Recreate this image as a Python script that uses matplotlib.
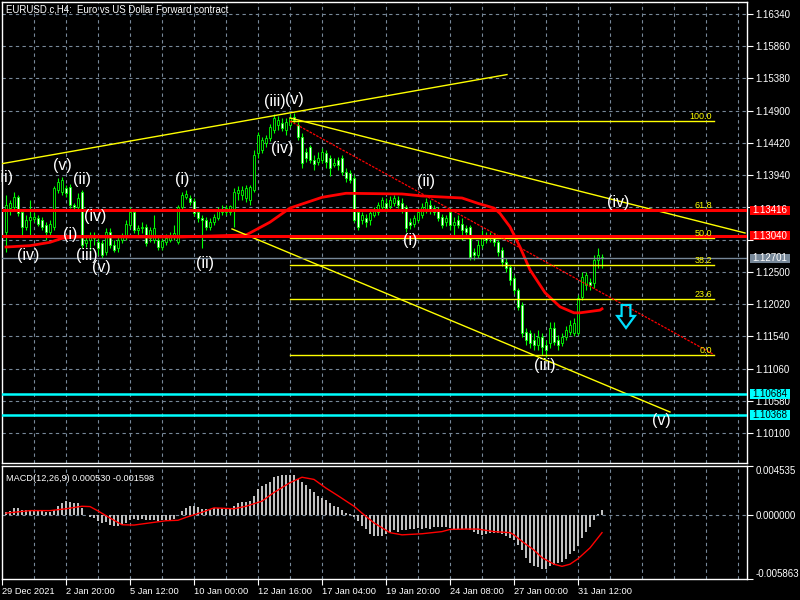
import matplotlib
matplotlib.use('Agg')
import matplotlib.pyplot as plt
import matplotlib.transforms as mtransforms
from matplotlib.patches import Polygon, Rectangle
import numpy as np

# H4 candles, bar 0 = first visible bar
opens = [
    1.1309, 1.1345, 1.1346, 1.1361, 1.1339, 1.1317, 1.1327, 1.1328, 1.1330, 1.1327,
    1.1320, 1.1309, 1.1317, 1.1372, 1.1369, 1.1375, 1.1376, 1.1349, 1.1346, 1.1369,
    1.1293, 1.1297, 1.1300, 1.1294, 1.1293, 1.1279, 1.1309, 1.1290, 1.1285, 1.1297,
    1.1302, 1.1320, 1.1339, 1.1312, 1.1315, 1.1317, 1.1300, 1.1297, 1.1297, 1.1287,
    1.1294, 1.1297, 1.1302, 1.1294, 1.1346, 1.1361, 1.1360, 1.1355, 1.1339, 1.1330,
    1.1327, 1.1317, 1.1324, 1.1330, 1.1339, 1.1339, 1.1339, 1.1342, 1.1367, 1.1364,
    1.1360, 1.1357, 1.1372, 1.1427, 1.1431, 1.1442, 1.1449, 1.1461, 1.1469, 1.1472,
    1.1461, 1.1469, 1.1481, 1.1469, 1.1451, 1.1428, 1.1436, 1.1417, 1.1414, 1.1417,
    1.1427, 1.1420, 1.1409, 1.1417, 1.1420, 1.1399, 1.1397, 1.1390, 1.1339, 1.1327,
    1.1330, 1.1327, 1.1334, 1.1339, 1.1346, 1.1352, 1.1348, 1.1352, 1.1357, 1.1352,
    1.1346, 1.1324, 1.1321, 1.1327, 1.1334, 1.1342, 1.1349, 1.1345, 1.1342, 1.1331,
    1.1324, 1.1339, 1.1320, 1.1327, 1.1322, 1.1315, 1.1317, 1.1279, 1.1275, 1.1290,
    1.1302, 1.1302, 1.1303, 1.1294, 1.1282, 1.1264, 1.1257, 1.1241, 1.1223, 1.1200,
    1.1160, 1.1159, 1.1148, 1.1141, 1.1153, 1.1141, 1.1144, 1.1166, 1.1148, 1.1144,
    1.1153, 1.1160, 1.1159, 1.1159, 1.1212, 1.1230, 1.1235, 1.1233, 1.1267, 1.1272,
]
highs = [
    1.1364, 1.1357, 1.1369, 1.1364, 1.1342, 1.1334, 1.1357, 1.1339, 1.1334, 1.1331,
    1.1324, 1.1327, 1.1378, 1.1390, 1.1391, 1.1379, 1.1381, 1.1352, 1.1367, 1.1372,
    1.1303, 1.1309, 1.1309, 1.1300, 1.1297, 1.1315, 1.1315, 1.1297, 1.1303, 1.1308,
    1.1327, 1.1346, 1.1342, 1.1320, 1.1324, 1.1321, 1.1317, 1.1334, 1.1303, 1.1300,
    1.1306, 1.1309, 1.1320, 1.1349, 1.1369, 1.1372, 1.1364, 1.1360, 1.1342, 1.1334,
    1.1331, 1.1330, 1.1336, 1.1346, 1.1349, 1.1349, 1.1349, 1.1375, 1.1378, 1.1378,
    1.1379, 1.1379, 1.1431, 1.1458, 1.1451, 1.1454, 1.1470, 1.1485, 1.1482, 1.1479,
    1.1479, 1.1485, 1.1487, 1.1473, 1.1457, 1.1434, 1.1439, 1.1424, 1.1428, 1.1434,
    1.1431, 1.1424, 1.1420, 1.1421, 1.1424, 1.1405, 1.1402, 1.1394, 1.1343, 1.1339,
    1.1336, 1.1342, 1.1346, 1.1354, 1.1361, 1.1360, 1.1363, 1.1364, 1.1363, 1.1360,
    1.1349, 1.1330, 1.1334, 1.1345, 1.1352, 1.1360, 1.1357, 1.1349, 1.1346, 1.1336,
    1.1334, 1.1345, 1.1331, 1.1334, 1.1330, 1.1320, 1.1320, 1.1285, 1.1297, 1.1312,
    1.1309, 1.1309, 1.1308, 1.1297, 1.1287, 1.1270, 1.1260, 1.1245, 1.1226, 1.1205,
    1.1166, 1.1163, 1.1159, 1.1163, 1.1159, 1.1148, 1.1175, 1.1175, 1.1156, 1.1159,
    1.1169, 1.1178, 1.1181, 1.1215, 1.1250, 1.1250, 1.1241, 1.1275, 1.1285, 1.1277,
]
lows = [
    1.1279, 1.1334, 1.1342, 1.1333, 1.1302, 1.1312, 1.1302, 1.1324, 1.1318, 1.1312,
    1.1297, 1.1303, 1.1312, 1.1367, 1.1364, 1.1361, 1.1345, 1.1342, 1.1342, 1.1285,
    1.1287, 1.1282, 1.1290, 1.1275, 1.1270, 1.1275, 1.1285, 1.1279, 1.1279, 1.1293,
    1.1297, 1.1315, 1.1308, 1.1305, 1.1308, 1.1288, 1.1294, 1.1293, 1.1282, 1.1282,
    1.1290, 1.1294, 1.1297, 1.1291, 1.1342, 1.1358, 1.1349, 1.1333, 1.1324, 1.1285,
    1.1312, 1.1312, 1.1320, 1.1327, 1.1334, 1.1334, 1.1334, 1.1317, 1.1357, 1.1357,
    1.1354, 1.1349, 1.1369, 1.1420, 1.1427, 1.1436, 1.1445, 1.1457, 1.1461, 1.1460,
    1.1454, 1.1466, 1.1472, 1.1446, 1.1405, 1.1414, 1.1412, 1.1402, 1.1409, 1.1412,
    1.1405, 1.1393, 1.1406, 1.1402, 1.1394, 1.1384, 1.1382, 1.1324, 1.1312, 1.1321,
    1.1317, 1.1320, 1.1331, 1.1334, 1.1342, 1.1339, 1.1342, 1.1348, 1.1345, 1.1337,
    1.1309, 1.1314, 1.1317, 1.1324, 1.1330, 1.1337, 1.1336, 1.1334, 1.1325, 1.1315,
    1.1318, 1.1312, 1.1305, 1.1315, 1.1297, 1.1302, 1.1267, 1.1267, 1.1270, 1.1285,
    1.1293, 1.1294, 1.1288, 1.1273, 1.1258, 1.1250, 1.1230, 1.1217, 1.1193, 1.1153,
    1.1141, 1.1136, 1.1133, 1.1133, 1.1126, 1.1123, 1.1136, 1.1141, 1.1133, 1.1139,
    1.1148, 1.1156, 1.1154, 1.1156, 1.1208, 1.1223, 1.1223, 1.1226, 1.1256, 1.1256,
]
closes = [
    1.1349, 1.1352, 1.1361, 1.1337, 1.1317, 1.1327, 1.1331, 1.1331, 1.1322, 1.1317,
    1.1309, 1.1322, 1.1375, 1.1384, 1.1387, 1.1367, 1.1349, 1.1346, 1.1360, 1.1290,
    1.1297, 1.1302, 1.1305, 1.1285, 1.1275, 1.1309, 1.1290, 1.1282, 1.1297, 1.1302,
    1.1322, 1.1339, 1.1312, 1.1315, 1.1317, 1.1293, 1.1312, 1.1315, 1.1287, 1.1296,
    1.1300, 1.1302, 1.1308, 1.1346, 1.1364, 1.1366, 1.1354, 1.1337, 1.1330, 1.1327,
    1.1317, 1.1324, 1.1331, 1.1342, 1.1342, 1.1345, 1.1348, 1.1369, 1.1372, 1.1372,
    1.1375, 1.1376, 1.1424, 1.1454, 1.1446, 1.1449, 1.1466, 1.1479, 1.1476, 1.1464,
    1.1473, 1.1479, 1.1476, 1.1451, 1.1412, 1.1420, 1.1417, 1.1411, 1.1420, 1.1428,
    1.1414, 1.1405, 1.1412, 1.1409, 1.1399, 1.1390, 1.1387, 1.1327, 1.1317, 1.1334,
    1.1324, 1.1337, 1.1342, 1.1349, 1.1357, 1.1345, 1.1357, 1.1360, 1.1349, 1.1342,
    1.1315, 1.1320, 1.1330, 1.1339, 1.1346, 1.1354, 1.1342, 1.1339, 1.1330, 1.1320,
    1.1330, 1.1320, 1.1324, 1.1320, 1.1312, 1.1309, 1.1272, 1.1275, 1.1290, 1.1305,
    1.1297, 1.1303, 1.1294, 1.1279, 1.1264, 1.1256, 1.1238, 1.1223, 1.1197, 1.1159,
    1.1148, 1.1144, 1.1141, 1.1153, 1.1138, 1.1133, 1.1166, 1.1146, 1.1141, 1.1153,
    1.1163, 1.1171, 1.1174, 1.1211, 1.1242, 1.1245, 1.1230, 1.1267, 1.1275, 1.12701,
]

# moving average (thick red curve), read at some bars
ma_bars = [0, 6, 11, 14, 18, 44, 60, 61, 66, 71, 79, 85, 99, 104, 114, 118, 122,
           123.5, 126, 128.5, 131, 134.75, 138.5, 142, 143.5, 148.5, 149]
ma_values = [1.1287, 1.1289, 1.1294, 1.1300, 1.1302, 1.1302, 1.1305, 1.1308, 1.1324,
             1.1345, 1.1361, 1.1367, 1.1366, 1.1363, 1.1360, 1.1352, 1.1345, 1.1337,
             1.1317, 1.1287, 1.1253, 1.1219, 1.1198, 1.1189, 1.1189, 1.1193, 1.1195]

# MACD histogram, one value per bar
macd_hist = [
    0.0003, 0.00044, 0.00065, 0.00065, 0.0005, 0.0005, 0.0005, 0.00045, 0.0004, 0.00037,
    0.0003, 0.0003, 0.0005, 0.0009, 0.00115, 0.0013, 0.0012, 0.00115, 0.00115, 0.0007,
    0.00005, -0.00015, -0.00025, -0.00055, -0.0007, -0.00065, -0.00087, -0.001, -0.001, -0.0009,
    -0.0007, -0.0004, -0.00035, -0.0004, -0.00035, -0.0004, -0.00045, -0.0004, -0.0005, -0.00045,
    -0.0004, -0.0004, -0.00035, 0.00005, 0.0004, 0.0007, 0.0009, 0.0009, 0.0008, 0.0006,
    0.0006, 0.0006, 0.00065, 0.0007, 0.00065, 0.0006, 0.0007, 0.0009, 0.0011, 0.0012,
    0.00125, 0.0013, 0.00175, 0.0024, 0.0027, 0.0029, 0.0031, 0.0035, 0.0036, 0.0037,
    0.0037, 0.0037, 0.0037, 0.0033, 0.0031, 0.0028, 0.0024, 0.0021, 0.0018, 0.0016,
    0.0014, 0.0011, 0.0009, 0.0008, 0.0005, 0.00025, 0.00015, -0.00015, -0.00055, -0.001,
    -0.0013, -0.0017, -0.0019, -0.00195, -0.0019, -0.0017, -0.0015, -0.0014, -0.0015, -0.0014,
    -0.0014, -0.0013, -0.00127, -0.0012, -0.00127, -0.0012, -0.00127, -0.0011, -0.0011, -0.0011,
    -0.0011, -0.0012, -0.00127, -0.00127, -0.0013, -0.0013, -0.0014, -0.0015, -0.0017, -0.0018,
    -0.0017, -0.0016, -0.0016, -0.0016, -0.0017, -0.0019, -0.0021, -0.0023, -0.0027, -0.0032,
    -0.0039, -0.0044, -0.0047, -0.0048, -0.0049, -0.0049, -0.0047, -0.0046, -0.0044, -0.0043,
    -0.004, -0.0036, -0.0033, -0.0028, -0.0021, -0.0015, -0.0011, -0.0004, 0.0001, 0.00053,
]
signal_bars = [0, 6, 11, 15, 19, 21, 23, 26, 29, 32, 36, 40, 43, 45, 49, 52, 57, 60,
               64, 67, 71, 74, 77, 80, 83, 87, 89, 92, 96, 99, 104, 109, 111, 115, 118,
               122, 126, 127, 129, 132, 134, 137, 139, 141, 143, 146, 149]
signal_values = [0.0002, 0.00043, 0.00043, 0.0006, 0.00083, 0.0008, 0.0004, -0.00025,
                 -0.00087, -0.0009, -0.0007, -0.0005, -0.00046, -0.00019, 0.00028, 0.00068,
                 0.0006, 0.00083, 0.0013, 0.0021, 0.003, 0.0035, 0.0033, 0.0025, 0.0018,
                 0.00083, 0.0002, -0.0007, -0.0016, -0.0018, -0.0017, -0.0015, -0.0013,
                 -0.00127, -0.00127, -0.0015, -0.0016, -0.0018, -0.0024, -0.0032, -0.0039,
                 -0.0045, -0.0047, -0.0045, -0.0040, -0.0030, -0.001598]

price_ticks = [1.10100, 1.10580, 1.11060, 1.11540, 1.12020, 1.12500, 1.12980,
               1.13460, 1.13940, 1.14420, 1.14900, 1.15380, 1.15860, 1.16340]
# labels hidden behind the red price boxes
hidden_ticks = [1.12980, 1.13460]
time_ticks = [-1, 15, 31, 47, 63, 79, 95, 111, 127, 143]
time_labels = ['29 Dec 2021', '2 Jan 20:00', '5 Jan 12:00', '10 Jan 00:00', '12 Jan 16:00',
               '17 Jan 04:00', '19 Jan 20:00', '24 Jan 08:00', '27 Jan 00:00', '31 Jan 12:00']

# horizontal levels
red_levels = [1.13416, 1.13040]
cyan_levels = [1.10684, 1.10368]
bid_price = 1.12701

# fibonacci retracement
fib_start, fib_end = 71, 177
fib_high, fib_low = 1.14746, 1.11268
fib_names = ['100.0', '61.8', '50.0', '38.2', '23.6', '0.0']
fib_prices = [1.14746, 1.13417, 1.13007, 1.12597, 1.12089, 1.11268]

# yellow trend lines: (bar0, price0, bar1, price1)
trend_lines = [
    (-1.5, 1.14106, 125.25, 1.15438),
    (56.5, 1.13139, 166.0, 1.10413),
    (71.0, 1.14792, 184.75, 1.13079),
]

# elliott wave labels
wave_text = ['(ii)', '(v)', '(ii)', '(iv)', '(i)', '(iv)', '(iii)', '(v)', '(i)', '(ii)',
             '(iii)', '(v)', '(iv)', '(ii)', '(i)', '(iv)', '(iii)', '(v)']
wave_bar = [-0.4, 14, 19, 22.25, 16, 5.5, 20.25, 23.75, 44, 49.75,
            67.25, 72, 69, 105, 101, 153, 134.75, 163.75]
wave_price = [1.1391, 1.1409, 1.1387, 1.1333, 1.1306, 1.1275, 1.1275, 1.1256, 1.1387, 1.1263,
              1.1503, 1.1507, 1.1433, 1.1385, 1.1296, 1.1354, 1.1110, 1.1028]

# cyan down arrow
arrow_bar, arrow_top, arrow_neck, arrow_tip = 155, 1.12007, 1.11843, 1.11664

GRID = '#778899'
LIME = '#00ff00'

plt.rcParams['font.family'] = ['Liberation Sans', 'DejaVu Sans']

fig = plt.figure(figsize=(8, 6), dpi=100, facecolor='black')
ax = fig.add_axes([2 / 800, 1 - 463 / 600, 745 / 800, 461 / 600], facecolor='black')
mx = fig.add_axes([2 / 800, 1 - 579 / 600, 745 / 800, 113 / 600], facecolor='black', sharex=ax)

bars = np.arange(len(closes))
o = np.array(opens)
c = np.array(closes)

# grid
for b in np.arange(7, 186, 8):
    ax.axvline(b, color=GRID, lw=0.8, ls=(0, (3, 3)), zorder=0)
    mx.axvline(b, color=GRID, lw=0.8, ls=(0, (3, 3)), zorder=0)
for p in price_ticks:
    ax.axhline(p, color=GRID, lw=0.8, ls=(0, (3, 3)), zorder=0)
mx.axhline(0, color=GRID, lw=0.8, ls=(0, (3, 3)), zorder=0)

# candles
ax.vlines(bars, lows, highs, color=LIME, lw=0.8, zorder=2)
face = ['black' if cc >= oo else 'white' for oo, cc in zip(opens, closes)]
ax.bar(bars, c - o, bottom=o, width=0.65, color=face, edgecolor=LIME, lw=0.6, zorder=3)

# moving average
ax.plot(ma_bars, ma_values, color='#ff0000', lw=2, zorder=4)

# fibonacci
for name, p in zip(fib_names, fib_prices):
    ax.plot([fib_start, fib_end], [p, p], color='#ffff00', lw=1, zorder=4)
    ax.text(fib_end - 0.5, p, name, color='#ffff00', fontsize=6.5, ha='right', va='bottom', zorder=6)
ax.plot([fib_start, fib_end], [fib_high, fib_low], color='#ff0000', lw=0.9,
        ls=(0, (2, 1)), zorder=4)

# trend lines
for b0, p0, b1, p1 in trend_lines:
    ax.plot([b0, b1], [p0, p1], color='#ffff00', lw=1, zorder=4)

# horizontal lines
for p in red_levels:
    ax.axhline(p, color='#ff0000', lw=2.2, zorder=5)
for p in cyan_levels:
    ax.axhline(p, color='#00ffff', lw=1.8, zorder=5)
ax.axhline(bid_price, color=GRID, lw=1, zorder=5)

# wave labels
for t, b, p in zip(wave_text, wave_bar, wave_price):
    ax.text(b, p, t, color='white', fontsize=11.5, ha='center', va='center', zorder=7)

# arrow
hw_s, hw_h = 1.1, 2.2
arrow = Polygon([(arrow_bar - hw_s, arrow_top), (arrow_bar + hw_s, arrow_top),
                 (arrow_bar + hw_s, arrow_neck), (arrow_bar + hw_h, arrow_neck),
                 (arrow_bar, arrow_tip), (arrow_bar - hw_h, arrow_neck),
                 (arrow_bar - hw_s, arrow_neck)], closed=True, fill=False,
                edgecolor='#00e0ff', lw=1.6, zorder=7)
ax.add_patch(arrow)

# axes styling
ax.set_xlim(-1, 185.25)
ax.set_ylim(1.096535, 1.165187)
ax.set_yticks(price_ticks)
ax.set_yticklabels(['' if p in hidden_ticks else '%.5f' % p for p in price_ticks])
ax.yaxis.tick_right()
ax.tick_params(axis='y', colors='white', labelsize=7, length=4, width=0.8, pad=2)
ax.tick_params(axis='x', bottom=False, labelbottom=False)
for s in ax.spines.values():
    s.set_color('white')
    s.set_linewidth(1)

ax.text(0.005, 0.994, 'EURUSD.c,H4:  Euro vs US Dollar Forward contract', color='white',
        fontsize=6.9, ha='left', va='top', transform=ax.transAxes, zorder=8)

# price labels on the scale
trans = mtransforms.blended_transform_factory(ax.transAxes, ax.transData)
box_h = 0.00072
labels = [(p, '#ff0000', 'white') for p in red_levels] + \
         [(p, '#00ffff', 'black') for p in cyan_levels] + [(bid_price, GRID, 'white')]
for p, fc, tc in labels:
    ax.add_patch(Rectangle((1.004, p - box_h), 40 / 745, 2 * box_h, transform=trans,
                           facecolor=fc, edgecolor='none', clip_on=False, zorder=9))
    ax.text(1.004 + 20 / 745, p, '%.5f' % p, color=tc, fontsize=7, ha='center',
            va='center', transform=trans, clip_on=False, zorder=10)

# MACD panel
mx.bar(bars, macd_hist, width=0.5, color='#c0c0c0', zorder=2)
mx.plot(signal_bars, signal_values, color='#ff0000', lw=1, zorder=3)
mx.set_ylim(-0.005863, 0.004535)
mx.set_yticks([0.004535, 0.0, -0.005863])
mx.set_yticklabels(['0.004535', '0.000000', '-0.005863'])
mx.yaxis.tick_right()
mx.tick_params(axis='y', colors='white', labelsize=7, length=4, width=0.8, pad=2)
ylabs = mx.get_yticklabels()
ylabs[0].set_va('top')
ylabs[2].set_va('bottom')
mx.set_xticks(time_ticks)
mx.set_xticklabels(time_labels)
for lab in mx.get_xticklabels():
    lab.set_ha('left')
mx.tick_params(axis='x', colors='white', labelsize=6.7, length=4, width=0.8, pad=2)
for s in mx.spines.values():
    s.set_color('white')
    s.set_linewidth(1)
mx.text(0.005, 0.93, 'MACD(12,26,9) 0.000530 -0.001598', color='white', fontsize=6.6,
        ha='left', va='top', transform=mx.transAxes)

fig.savefig('out.png', dpi=100, facecolor='black')
